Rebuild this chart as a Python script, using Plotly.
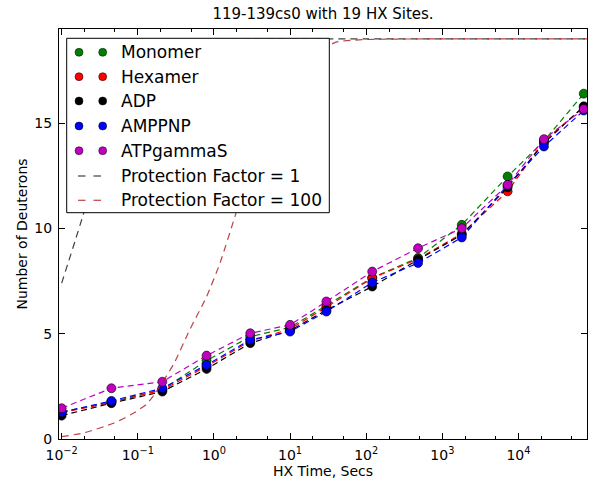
import plotly.graph_objects as go

# HX time points (seconds)
times = [0.01, 0.045, 0.21, 0.8, 3, 10, 30, 120, 480, 1800, 7200, 21600, 72000]

# Deuterons incorporated per state
monomer = [1.28, 1.76, 2.35, 3.72, 4.86, 5.30, 6.34, 7.66, 8.60, 10.17, 12.47, 14.15, 16.40]
hexamer = [1.25, 1.74, 2.33, 3.45, 4.65, 5.22, 6.26, 7.64, 8.55, 9.75, 11.76, 14.15, 15.76]
adp = [1.11, 1.70, 2.25, 3.33, 4.55, 5.15, 6.12, 7.24, 8.51, 9.70, 11.95, 14.05, 15.80]
amppnp = [1.27, 1.81, 2.41, 3.52, 4.71, 5.10, 6.05, 7.43, 8.36, 9.57, 12.05, 13.89, 15.60]
atpgammas = [1.46, 2.41, 2.72, 3.96, 5.02, 5.42, 6.53, 7.95, 9.06, 10.01, 12.07, 14.24, 15.67]

series_names = ["Monomer", "Hexamer", "ADP", "AMPPNP", "ATPgammaS"]
series_values = [monomer, hexamer, adp, amppnp, atpgammas]
series_colors = ["#008000", "#ff0000", "#000000", "#0000ff", "#bf00bf"]

# Theoretical uptake curves
pf1_times = [0.01, 0.012, 0.015, 0.019, 0.025, 0.035, 0.05, 0.07, 0.1, 0.15,
             0.2, 0.3, 0.5, 1, 2, 10, 100, 1000, 86400]
pf1_values = [7.4, 8.3, 9.4, 10.6, 12.0, 13.6, 15.0, 16.1, 17.0, 17.8,
              18.2, 18.6, 18.85, 18.97, 19.0, 19.0, 19.0, 19.0, 19.0]
pf100_times = [0.01, 0.02, 0.048, 0.087, 0.13, 0.16, 0.216, 0.3, 0.48, 0.8, 1.2, 1.89,
               2.5, 3.5, 5, 7, 10, 15, 20, 30, 40, 100, 1000, 86400]
pf100_values = [0.11, 0.3, 0.75, 1.22, 1.65, 2.05, 2.75, 3.6, 5.18, 6.76, 8.35, 10.57,
                12.0, 13.6, 15.0, 16.1, 17.0, 17.8, 18.2, 18.6, 18.85, 18.97, 19.0, 19.0]
pf_names = ["Protection Factor = 1", "Protection Factor = 100"]
pf_colors = ["rgba(0,0,0,0.75)", "rgba(178,34,34,0.85)"]

# Decade ticks on the time axis
x_tick_vals = [0.01, 0.1, 1, 10, 100, 1000, 10000]
x_tick_text = ["10<sup>\u22122</sup>", "10<sup>\u22121</sup>", "10<sup>0</sup>",
               "10<sup>1</sup>", "10<sup>2</sup>", "10<sup>3</sup>", "10<sup>4</sup>"]

W, H = 590, 486
ML, MR, MT, MB = 59, 3, 29, 47
PW, PH = W - ML - MR, H - MT - MB
FONT = "DejaVu Sans"


def px(x):
    return (x - ML) / PW


def py(y):
    return (H - MB - y) / PH


fig = go.Figure()

for name, vals, col in zip(series_names, series_values, series_colors):
    fig.add_trace(go.Scatter(
        x=times, y=vals, mode="lines+markers", name=name, showlegend=False,
        line=dict(color=col, width=1.2, dash="6px,4px"),
        marker=dict(color=col, size=9, line=dict(color="black", width=0.6)),
    ))

for name, tt, vv, col in zip(pf_names, [pf1_times, pf100_times],
                             [pf1_values, pf100_values], pf_colors):
    fig.add_trace(go.Scatter(
        x=tt, y=vv, mode="lines", name=name, showlegend=False,
        line=dict(color=col, width=1.2, dash="7px,5px", shape="spline", smoothing=0.6),
    ))

# Legend box drawn on top of the plot area
shapes = [dict(type="rect", xref="paper", yref="paper",
               x0=px(66.7), x1=px(329.3), y0=py(212.7), y1=py(38.3),
               line=dict(color="black", width=1), fillcolor="white", layer="above")]
annotations = []
row_y = [52.3, 76.7, 101.0, 126.0, 150.7, 176.0, 200.3]
dot_x = [79.0, 102.7]
r = 4.0
for i, (name, col) in enumerate(zip(series_names, series_colors)):
    for cx in dot_x:
        shapes.append(dict(type="circle", xref="paper", yref="paper",
                           x0=px(cx - r), x1=px(cx + r),
                           y0=py(row_y[i] + r), y1=py(row_y[i] - r),
                           line=dict(color="black", width=0.5), fillcolor=col,
                           layer="above"))
for j, (name, col) in enumerate(zip(pf_names, pf_colors)):
    yy = row_y[5 + j]
    for a, b in [(78.0, 85.5), (93.5, 101.0)]:
        shapes.append(dict(type="line", xref="paper", yref="paper",
                           x0=px(a), x1=px(b), y0=py(yy), y1=py(yy),
                           line=dict(color=col, width=1.2), layer="above"))
for i, name in enumerate(series_names + pf_names):
    annotations.append(dict(text=name, xref="paper", yref="paper",
                            x=px(119.0), y=py(row_y[i]), xanchor="left",
                            yanchor="middle", showarrow=False,
                            font=dict(family=FONT, size=17, color="black")))

fig.update_layout(
    width=W, height=H,
    margin=dict(l=ML, r=MR, t=MT, b=MB),
    paper_bgcolor="white", plot_bgcolor="white",
    font=dict(family=FONT, size=14, color="black"),
    title=dict(text="119-139cs0 with 19 HX Sites.", x=px(323), xref="paper",
               xanchor="center", y=1 - 13.5 / H, yref="container", yanchor="middle",
               font=dict(family=FONT, size=15, color="black")),
    shapes=shapes, annotations=annotations,
    showlegend=False,
)
fig.update_xaxes(
    type="log", range=[-2.035, 4.90], tickvals=x_tick_vals, ticktext=x_tick_text,
    showline=True, linecolor="black", linewidth=1, mirror="allticks",
    ticks="inside", ticklen=6, tickcolor="black", showgrid=False, zeroline=False,
    minor=dict(ticks="inside", ticklen=3, tickcolor="black", showgrid=False),
    ticklabelstandoff=3,
    title=dict(text="HX Time, Secs", font=dict(family=FONT, size=14), standoff=4),
    tickfont=dict(family=FONT, size=14),
)
fig.update_yaxes(
    range=[0, 19.47], tick0=0, dtick=5,
    showline=True, linecolor="black", linewidth=1, mirror="allticks",
    ticks="inside", ticklen=6, tickcolor="black", showgrid=False, zeroline=False,
    ticklabelstandoff=3,
    title=dict(text="Number of Deuterons", font=dict(family=FONT, size=14), standoff=3),
    tickfont=dict(family=FONT, size=14),
)

fig.write_html("out.html")
